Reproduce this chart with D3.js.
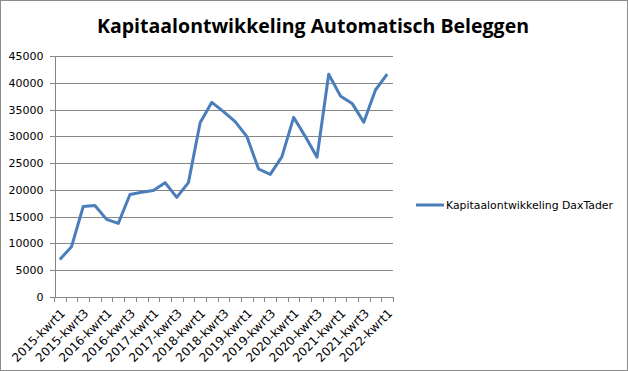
<!DOCTYPE html>
<html>
<head>
<meta charset="utf-8">
<style>
  body { margin: 0; background: #fff; }
  svg { display: block; font-family: "DejaVu Sans", sans-serif; }
  .grid line { stroke: #868686; stroke-width: 1; shape-rendering: crispEdges; }
  .axis line, .axis path { stroke: #868686; shape-rendering: crispEdges; fill: none; }
  .axis text { fill: #000; }
</style>
</head>
<body>
<svg width="628" height="371"></svg>
<script src="https://d3js.org/d3.v7.min.js"></script>
<script>
var quarters = [];
[2015, 2016, 2017, 2018, 2019, 2020, 2021].forEach(function(y) {
  for (var q = 1; q <= 4; q++) quarters.push(y + "-kwrt" + q);
});
quarters.push("2022-kwrt1");

var values = [7000, 9400, 16900, 17100, 14500, 13750, 19150, 19550, 19900, 21350,
  18600, 21350, 32550, 36350, 34600, 32750, 29950, 23900, 22900, 26200,
  33550, 29950, 26100, 41600, 37550, 36150, 32650, 38650, 41600];

var yTicks = [0, 5000, 10000, 15000, 20000, 25000, 30000, 35000, 40000, 45000];
var seriesName = "Kapitaalontwikkeling DaxTader";
var title = "Kapitaalontwikkeling Automatisch Beleggen";

var svg = d3.select("svg");
var plotLeft = 54, plotRight = 393, plotTop = 56, plotBottom = 297;

svg.append("rect")
  .attr("x", 0.5).attr("y", 0.5).attr("width", 627).attr("height", 370)
  .attr("fill", "#fff").attr("stroke", "#8c8c8c");

var x = d3.scaleBand().domain(quarters).range([plotLeft, plotRight]);
var y = d3.scaleLinear().domain([0, 45000]).range([plotBottom, plotTop]);

// gridlines
svg.append("g").attr("class", "grid")
  .selectAll("line").data(yTicks.slice(1)).enter().append("line")
  .attr("x1", plotLeft).attr("x2", plotRight)
  .attr("y1", function(d) { return Math.round(y(d)) + 0.5; })
  .attr("y2", function(d) { return Math.round(y(d)) + 0.5; });

// y axis
var yAxis = svg.append("g").attr("class", "axis")
  .attr("transform", "translate(" + (plotLeft + 0.5) + ",0)")
  .call(d3.axisLeft(y).tickValues(yTicks).tickSize(5).tickPadding(6).tickFormat(d3.format("d")));
yAxis.selectAll("text").style("font-size", "11px").style("font-family", "'DejaVu Sans', sans-serif");

// x axis: line + tick marks at band boundaries
var xg = svg.append("g").attr("class", "axis");
xg.append("line").attr("x1", plotLeft).attr("x2", plotRight)
  .attr("y1", plotBottom + 0.5).attr("y2", plotBottom + 0.5);
var bounds = quarters.map(function(d) { return x(d); }).concat([plotRight]);
xg.selectAll("line.tk").data(bounds).enter().append("line").attr("class", "tk")
  .attr("x1", function(d) { return Math.round(d) + 0.5; })
  .attr("x2", function(d) { return Math.round(d) + 0.5; })
  .attr("y1", plotBottom).attr("y2", plotBottom + 5);

xg.selectAll("text").data(quarters.filter(function(d, i) { return i % 2 === 0; }))
  .enter().append("text")
  .attr("text-anchor", "end")
  .attr("transform", function(d) {
    return "translate(" + (x(d) + x.bandwidth() / 2 + 6) + "," + (plotBottom + 17) + ") rotate(-45)";
  })
  .style("font-size", "12px")
  .text(function(d) { return d; });

// line
var line = d3.line()
  .x(function(d, i) { return x(quarters[i]) + x.bandwidth() / 2; })
  .y(function(d) { return y(d); });
svg.append("path").datum(values)
  .attr("fill", "none").attr("stroke", "#4a7ebb").attr("stroke-width", 3)
  .attr("stroke-linejoin", "round")
  .attr("d", line);

// title
svg.append("text")
  .attr("x", 313).attr("y", 33)
  .attr("text-anchor", "middle")
  .attr("font-family", "'Open Sans', sans-serif")
  .attr("font-weight", "bold").attr("font-size", 20)
  .attr("textLength", 432).attr("lengthAdjust", "spacingAndGlyphs")
  .text(title);

// legend
var lg = svg.append("g").attr("transform", "translate(416,205)");
lg.append("line").attr("x1", 0).attr("x2", 28).attr("y1", 0).attr("y2", 0)
  .attr("stroke", "#4a7ebb").attr("stroke-width", 3);
lg.append("text").attr("x", 30).attr("y", 4)
  .style("font-size", "11px")
  .attr("textLength", 167).attr("lengthAdjust", "spacingAndGlyphs")
  .text(seriesName);
</script>
</body>
</html>
